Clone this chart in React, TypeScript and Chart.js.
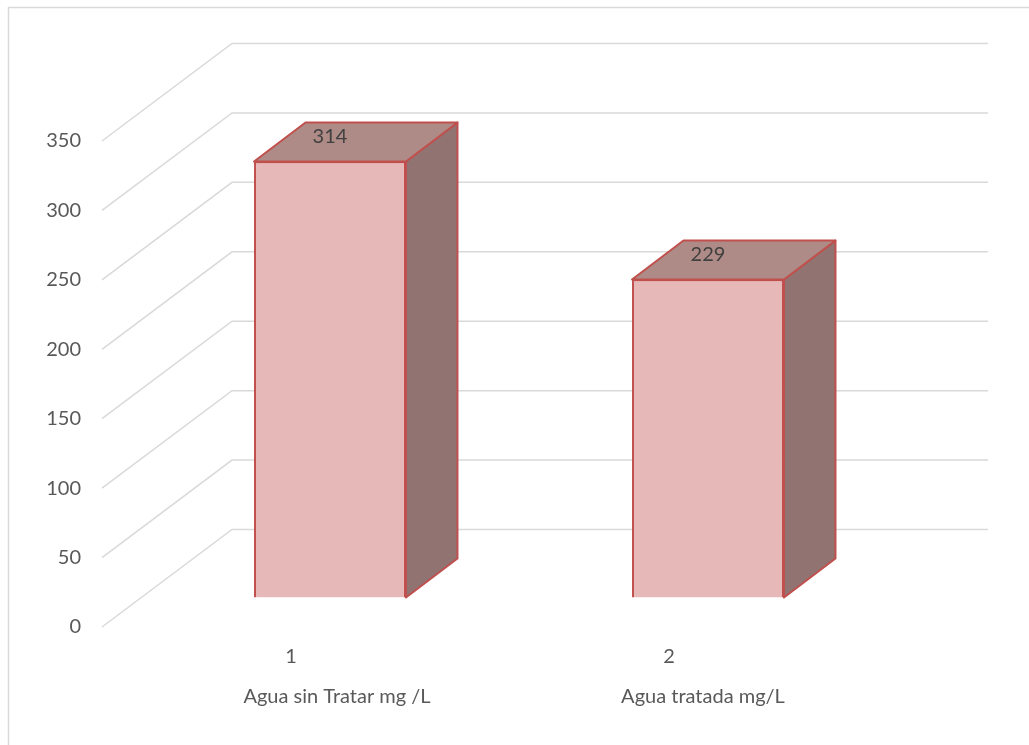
import React, { useEffect, useRef } from "react";
import { Chart, registerables } from "chart.js";

Chart.register(...registerables);

const categories = ["1", "2"];
const seriesNames = ["Agua sin Tratar mg /L", "Agua tratada mg/L"];
const values = [314, 229];

const FONT = "Lato, Carlito, sans-serif";
const GRID = "#d9d9d9";
const TICK = "#595959";
const EDGE = "#c0504d";
const FRONT = "#e7b8b8";
const TOP = "#ae8b86";
const SIDE = "#917372";

// Oblique projection: wall depth of the plot and where the bars sit within it.
const WALL = { dx: 130, dy: -97.5 };
const BAR_SHIFT = { dx: 39, dy: -29.5 };
const BAR_DEPTH = { dx: 51.5, dy: -39 };
const NAME_SHIFT = [46, 34];

const box3d = {
  id: "box3d",
  beforeDatasetsDraw(chart: any) {
    const { ctx, chartArea, scales } = chart;
    ctx.save();
    // Outer frame: only the top and left edges fall inside the page.
    ctx.strokeStyle = GRID;
    ctx.lineWidth = 1.5;
    ctx.beginPath();
    ctx.moveTo(8.5, 745);
    ctx.lineTo(8.5, 7.5);
    ctx.lineTo(1029, 7.5);
    ctx.stroke();
    // Grid: an oblique segment along the side wall, then a level one on the back wall.
    for (const tick of scales.y.ticks) {
      const y = scales.y.getPixelForValue(tick.value);
      ctx.beginPath();
      ctx.moveTo(chartArea.left, y);
      ctx.lineTo(chartArea.left + WALL.dx, y + WALL.dy);
      ctx.lineTo(chartArea.right + WALL.dx, y + WALL.dy);
      ctx.stroke();
    }
    ctx.restore();
    // Bars stand part-way into the depth of the plot.
    ctx.save();
    ctx.translate(BAR_SHIFT.dx, BAR_SHIFT.dy);
    const meta = chart.getDatasetMeta(0);
    ctx.strokeStyle = EDGE;
    ctx.lineWidth = 2;
    ctx.lineJoin = "round";
    for (const bar of meta.data) {
      const right = bar.x + bar.width / 2;
      const left = bar.x - bar.width / 2;
      const { dx, dy } = BAR_DEPTH;
      ctx.fillStyle = SIDE;
      ctx.beginPath();
      ctx.moveTo(right, bar.base);
      ctx.lineTo(right + dx, bar.base + dy);
      ctx.lineTo(right + dx, bar.y + dy);
      ctx.lineTo(right, bar.y);
      ctx.closePath();
      ctx.fill();
      ctx.stroke();
      ctx.fillStyle = TOP;
      ctx.beginPath();
      ctx.moveTo(left, bar.y);
      ctx.lineTo(left + dx, bar.y + dy);
      ctx.lineTo(right + dx, bar.y + dy);
      ctx.lineTo(right, bar.y);
      ctx.closePath();
      ctx.fill();
      ctx.stroke();
    }
  },
  afterDatasetsDraw(chart: any) {
    const { ctx, chartArea, scales } = chart;
    ctx.restore();
    ctx.save();
    ctx.textAlign = "center";
    ctx.textBaseline = "middle";
    ctx.font = `20px ${FONT}`;
    ctx.fillStyle = "#404040";
    const meta = chart.getDatasetMeta(0);
    meta.data.forEach((bar: any, i: number) => {
      ctx.fillText(String(values[i]), bar.x + BAR_SHIFT.dx, bar.y + BAR_SHIFT.dy - 25);
    });
    ctx.fillStyle = TICK;
    seriesNames.forEach((name, i) => {
      ctx.fillText(name, scales.x.getPixelForTick(i) + NAME_SHIFT[i], chartArea.bottom + 70);
    });
    ctx.restore();
  },
};

export default function App() {
  const ref = useRef<HTMLCanvasElement>(null);
  useEffect(() => {
    const chart = new Chart(ref.current!, {
      type: "bar",
      data: {
        labels: categories,
        datasets: [
          {
            data: values,
            backgroundColor: FRONT,
            borderColor: EDGE,
            borderWidth: 2,
            barPercentage: 0.402,
            categoryPercentage: 1,
            clip: false,
          } as any,
        ],
      },
      options: {
        animation: false,
        responsive: false,
        layout: { padding: { left: 0, right: 171, top: 141, bottom: 0 } },
        plugins: { legend: { display: false }, tooltip: { enabled: false } },
        scales: {
          x: {
            grid: { display: false, drawTicks: false },
            border: { display: false },
            ticks: { color: TICK, font: { family: FONT, size: 20 }, padding: 18 },
            afterFit: (s: any) => {
              s.height = 118;
            },
          },
          y: {
            min: 0,
            max: 350,
            grid: { display: false, drawTicks: false },
            border: { display: false },
            ticks: { stepSize: 50, color: TICK, font: { family: FONT, size: 20 }, padding: 21 },
            afterFit: (s: any) => {
              s.width = 102;
            },
          },
        },
      },
      plugins: [box3d],
    });
    return () => chart.destroy();
  }, []);
  return (
    <canvas
      ref={ref}
      width={1029}
      height={745}
      style={{ position: "absolute", left: 0, top: 0, width: 1029, height: 745 }}
    />
  );
}
